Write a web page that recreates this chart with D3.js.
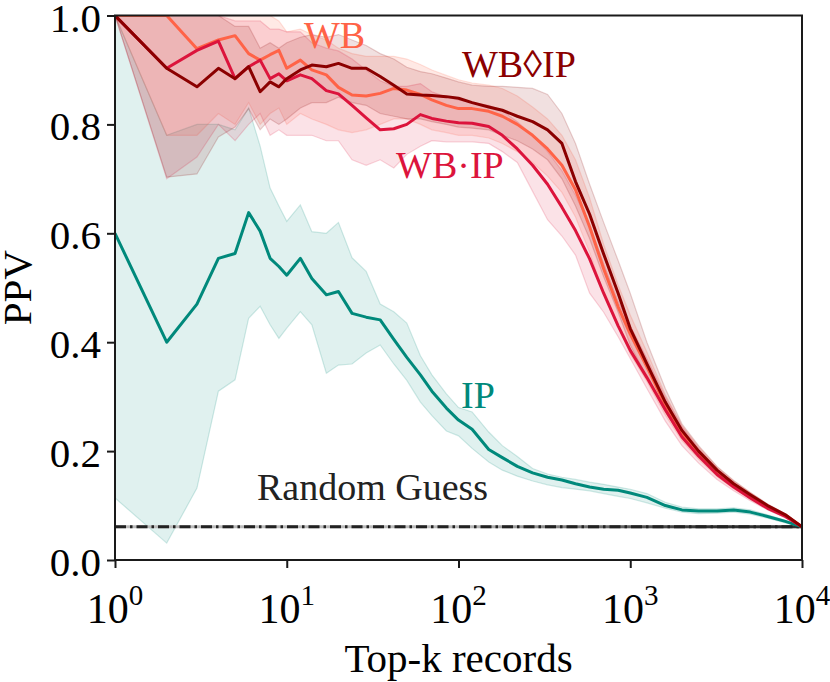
<!DOCTYPE html>
<html>
<head>
<meta charset="utf-8">
<script src="https://cdn.jsdelivr.net/npm/d3@7"></script>
<style>
  body { margin: 0; background: #fff; }
  svg { display: block; }
  text { font-family: "Liberation Serif", "Times New Roman", Times, serif; }
</style>
</head>
<body>
<div id="chart"></div>
<script>
// top-k grid (shared by every series)
var K = [1,2,3,4,5,6,7,8,9,10,12,14,17,20,24,29,35,42,50,60,70,85,100,120,150,180,220,270,330,
         400,480,580,700,850,1000,1250,1600,2000,2500,3200,4000,5000,6300,8000,10000];

// IP
var ipMean = [0.6,0.4,0.47,0.554,0.563,0.638,0.604,0.554,0.539,0.523,
  0.554,0.517,0.487,0.493,0.453,0.446,0.441,0.405,0.372,
  0.34,0.31,0.279,0.257,0.24,0.203,0.188,0.172,0.16,0.152,
  0.147,0.14,0.134,0.13,0.128,0.123,0.115,0.1,0.092,0.09,
  0.09,0.092,0.088,0.08,0.071,0.061];
var ipLo = [0.114,0.031,0.132,0.31,0.331,0.444,0.466,0.432,0.407,0.426,
  0.456,0.432,0.343,0.358,0.36,0.38,0.395,0.36,0.33,
  0.29,0.265,0.237,0.228,0.205,0.18,0.165,0.154,0.145,0.138,
  0.133,0.13,0.127,0.122,0.117,0.113,0.105,0.095,0.088,0.085,
  0.086,0.088,0.084,0.077,0.068,0.061];
var ipHi = [1.0,0.78,0.8,0.8,0.79,0.83,0.76,0.683,0.65,0.622,
  0.652,0.603,0.6,0.62,0.555,0.53,0.47,0.456,0.435,
  0.375,0.34,0.305,0.28,0.272,0.235,0.21,0.19,0.168,0.158,
  0.152,0.148,0.143,0.139,0.134,0.13,0.122,0.106,0.097,0.094,
  0.094,0.096,0.092,0.083,0.073,0.061];

// WB
var wbMean = [1.0,1.0,0.939,0.955,0.963,0.93,0.918,0.928,0.936,0.903,
  0.918,0.9,0.891,0.868,0.854,0.852,0.857,0.866,0.863,
  0.855,0.845,0.835,0.829,0.829,0.824,0.815,0.8,0.78,0.755,
  0.725,0.68,0.612,0.535,0.465,0.415,0.355,0.285,0.233,0.197,
  0.162,0.138,0.118,0.098,0.082,0.061];
var wbLo = [1.0,0.78,0.78,0.82,0.8,0.84,0.8,0.82,0.83,0.8,
  0.82,0.81,0.8,0.79,0.785,0.79,0.8,0.81,0.81,
  0.8,0.79,0.785,0.78,0.78,0.775,0.765,0.75,0.73,0.705,
  0.675,0.63,0.565,0.49,0.43,0.378,0.328,0.266,0.219,0.185,
  0.153,0.131,0.112,0.094,0.079,0.061];
var wbHi = [1.0,1.0,1.0,1.0,1.0,1.0,1.0,1.0,0.99,0.97,
  0.975,0.965,0.955,0.94,0.93,0.925,0.925,0.925,0.92,
  0.91,0.9,0.89,0.882,0.876,0.872,0.866,0.852,0.832,0.81,
  0.78,0.735,0.665,0.58,0.505,0.45,0.382,0.304,0.247,0.208,
  0.171,0.145,0.124,0.102,0.085,0.061];

// WB·IP
var wbipMean = [1.0,0.903,0.936,0.953,0.884,0.906,0.918,0.884,0.893,0.88,
  0.891,0.884,0.862,0.856,0.835,0.812,0.79,0.792,0.8,
  0.818,0.811,0.806,0.803,0.802,0.796,0.78,0.755,0.725,0.69,
  0.648,0.605,0.553,0.49,0.43,0.385,0.335,0.276,0.226,0.191,
  0.157,0.134,0.114,0.095,0.08,0.061];
var wbipLo = [1.0,0.7,0.74,0.8,0.77,0.8,0.82,0.78,0.79,0.78,
  0.78,0.78,0.77,0.77,0.735,0.725,0.735,0.72,0.745,
  0.76,0.77,0.768,0.768,0.768,0.765,0.75,0.73,0.677,0.625,
  0.595,0.56,0.49,0.455,0.41,0.37,0.315,0.255,0.21,0.178,
  0.148,0.127,0.109,0.092,0.077,0.061];
var wbipHi = [1.0,1.0,1.0,1.0,0.99,0.99,0.99,0.975,0.975,0.97,
  0.97,0.95,0.94,0.935,0.92,0.9,0.88,0.87,0.87,
  0.875,0.86,0.85,0.845,0.84,0.835,0.825,0.805,0.78,0.75,
  0.715,0.67,0.615,0.545,0.475,0.43,0.37,0.3,0.245,0.205,
  0.168,0.142,0.121,0.1,0.083,0.061];

// WB◊IP
var wbdMean = [1.0,0.903,0.869,0.903,0.884,0.906,0.86,0.878,0.869,0.884,
  0.9,0.909,0.906,0.912,0.903,0.903,0.888,0.872,0.856,
  0.854,0.853,0.851,0.848,0.84,0.832,0.826,0.815,0.805,0.79,
  0.765,0.695,0.635,0.562,0.49,0.425,0.36,0.29,0.238,0.2,
  0.165,0.14,0.12,0.1,0.083,0.061];
var wbdLo = [1.0,0.703,0.709,0.777,0.795,0.829,0.79,0.81,0.8,0.81,
  0.83,0.84,0.84,0.85,0.84,0.835,0.82,0.815,0.81,
  0.81,0.805,0.8,0.795,0.793,0.79,0.78,0.77,0.755,0.735,
  0.7,0.65,0.59,0.52,0.455,0.395,0.335,0.272,0.225,0.19,
  0.157,0.134,0.115,0.096,0.08,0.061];
var wbdHi = [1.0,1.0,1.0,1.0,0.98,0.98,0.94,0.95,0.94,0.95,
  0.96,0.965,0.96,0.965,0.955,0.945,0.93,0.92,0.905,
  0.897,0.893,0.885,0.878,0.872,0.87,0.87,0.868,0.866,0.855,
  0.82,0.765,0.69,0.62,0.55,0.49,0.4,0.315,0.25,0.21,
  0.172,0.146,0.124,0.103,0.085,0.061];

var randomGuess = 0.061;
var xTicks = [1, 10, 100, 1000, 10000];
var yTicks = [0, 0.2, 0.4, 0.6, 0.8, 1.0];

var series = [
  {name: "IP",    color: "#00897b", fillOp: 0.12, mean: ipMean,   lo: ipLo,   hi: ipHi},
  {name: "WB",    color: "#ff6347", fillOp: 0.14, mean: wbMean,   lo: wbLo,   hi: wbHi},
  {name: "WB·IP", color: "#dc143c", fillOp: 0.12, mean: wbipMean, lo: wbipLo, hi: wbipHi},
  {name: "WB◊IP", color: "#8b0000", fillOp: 0.12, mean: wbdMean,  lo: wbdLo,  hi: wbdHi}
];

var W = 830, H = 682;
var margin = {top: 15.5, right: 28, bottom: 122, left: 115};
var iw = W - margin.left - margin.right,
    ih = H - margin.top - margin.bottom;

var x = d3.scaleLog().domain([1, 10000]).range([0, iw]);
var y = d3.scaleLinear().domain([0, 1]).range([ih, 0]);

var svg = d3.select("#chart").append("svg")
    .attr("width", W).attr("height", H);

var defs = svg.append("defs");
defs.append("clipPath").attr("id", "clip")
  .append("rect").attr("width", iw).attr("height", ih);

// random guess line gets darker to the right
var grad = defs.append("linearGradient").attr("id", "rgfade")
    .attr("gradientUnits", "userSpaceOnUse")
    .attr("x1", x(100)).attr("x2", x(3000)).attr("y1", 0).attr("y2", 0);
grad.append("stop").attr("offset", 0).attr("stop-color", "#222").attr("stop-opacity", 0);
grad.append("stop").attr("offset", 1).attr("stop-color", "#222").attr("stop-opacity", 0.9);

var g = svg.append("g").attr("transform", "translate(" + margin.left + "," + margin.top + ")");
var plot = g.append("g").attr("clip-path", "url(#clip)");

var area = d3.area()
    .x(function(d) { return x(d.k); })
    .y0(function(d) { return y(d.lo); })
    .y1(function(d) { return y(d.hi); });
var line = d3.line()
    .x(function(d) { return x(d.k); })
    .y(function(d) { return y(d.v); });
var edge = d3.line()
    .x(function(d) { return x(d[0]); })
    .y(function(d) { return y(d[1]); });

// shaded bands
series.forEach(function(s) {
  var pts = K.map(function(k, i) { return {k: k, lo: s.lo[i], hi: s.hi[i]}; });
  plot.append("path").datum(pts)
      .attr("d", area)
      .attr("fill", s.color)
      .attr("fill-opacity", s.fillOp);
  [s.lo, s.hi].forEach(function(arr) {
    plot.append("path")
        .datum(K.map(function(k, i) { return [k, arr[i]]; }))
        .attr("d", edge)
        .attr("fill", "none")
        .attr("stroke", s.color)
        .attr("stroke-opacity", 0.18)
        .attr("stroke-width", 1.2);
  });
});

// random guess
var rg = [[1, randomGuess], [10000, randomGuess]];
plot.append("path").datum(rg).attr("d", edge)
    .attr("stroke", "#bbb").attr("stroke-width", 3).attr("fill", "none");
plot.append("path").datum(rg).attr("d", edge)
    .attr("stroke", "#222").attr("stroke-width", 3).attr("fill", "none")
    .attr("stroke-dasharray", "11,4,2.5,4");
plot.append("path").datum(rg).attr("d", edge)
    .attr("stroke", "url(#rgfade)").attr("stroke-width", 3).attr("fill", "none");

// mean lines
series.forEach(function(s) {
  plot.append("path")
      .datum(K.map(function(k, i) { return {k: k, v: s.mean[i]}; }))
      .attr("d", line)
      .attr("fill", "none")
      .attr("stroke", s.color)
      .attr("stroke-width", 3)
      .attr("stroke-linejoin", "round");
});

// annotations (anchored at text start / baseline)
var notes = [
  {t: "WB",           k: 12.6,  v: 0.94,  c: "#ff6347"},
  {t: "WB◊IP",        k: 104.8, v: 0.887, c: "#8b0000"},
  {t: "WB·IP",        k: 43.3,  v: 0.701, c: "#dc143c"},
  {t: "IP",           k: 103.4, v: 0.28,  c: "#00897b"},
  {t: "Random Guess", k: 6.71,  v: 0.11,  c: "#222"}
];
g.selectAll("text.note").data(notes).enter().append("text")
    .attr("class", "note")
    .attr("x", function(d) { return x(d.k); })
    .attr("y", function(d) { return y(d.v); })
    .attr("fill", function(d) { return d.c; })
    .style("font-size", "38px")
    .text(function(d) { return d.t; });

// frame
g.append("rect").attr("width", iw).attr("height", ih)
    .attr("fill", "none").attr("stroke", "#1a1a1a").attr("stroke-width", 2);

// y axis
var ya = g.append("g").call(d3.axisLeft(y).tickValues(yTicks).tickFormat(d3.format(".1f")).tickSize(8).tickPadding(6));
ya.select(".domain").remove();
ya.selectAll("line").attr("stroke", "#1a1a1a").attr("stroke-width", 2);
ya.selectAll("text").attr("fill", "#000").style("font-size", "41px")
    .style("font-family", "Liberation Serif, serif").attr("dy", "0.38em");

// x axis, 10^n labels
var xa = g.append("g").attr("transform", "translate(0," + ih + ")")
    .call(d3.axisBottom(x).tickValues(xTicks).tickFormat("").tickSize(8));
xa.select(".domain").remove();
xa.selectAll("line").attr("stroke", "#1a1a1a").attr("stroke-width", 2);
xTicks.forEach(function(t) {
  var lab = g.append("text")
      .attr("x", x(t)).attr("y", ih + 63)
      .attr("text-anchor", "middle")
      .style("font-size", "42px");
  lab.append("tspan").text("10");
  lab.append("tspan").attr("dy", -18).style("font-size", "29px").text(Math.round(Math.log10(t)));
});

g.append("text")
    .attr("x", iw / 2).attr("y", ih + 112)
    .attr("text-anchor", "middle")
    .style("font-size", "41px")
    .text("Top-k records");

svg.append("text")
    .attr("transform", "translate(31," + (margin.top + ih / 2) + ") rotate(-90)")
    .attr("text-anchor", "middle")
    .style("font-size", "41px")
    .text("PPV");
</script>
</body>
</html>
